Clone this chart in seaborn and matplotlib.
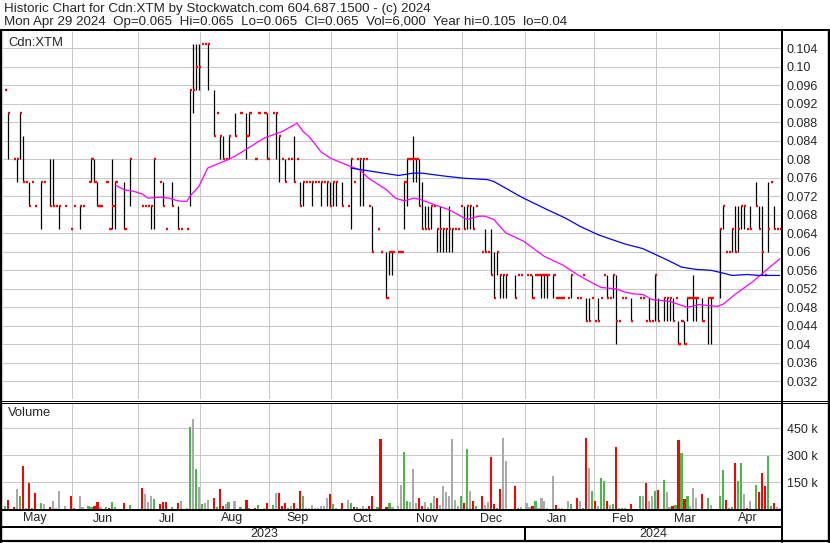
import numpy as np
import pandas as pd
import matplotlib
matplotlib.use('Agg')
import matplotlib.pyplot as plt
import seaborn as sns
from matplotlib.lines import Line2D

# daily bars, Cdn:XTM, 1 May 2023 .. 29 Apr 2024 (weekdays), None = no trade
high = [
    .095, .09, None, .08, .08, .09, .085, .075, .075, .075,
    .07, None, .075, .075, None, .08, .08, .07, .07, None,
    .07, None, .065, .07, None, .07, .07, None, .075, .08,
    .08, .075, .07, None, .075, .065, .08, .075, None, None,
    .075, None, .08, None, None, None, .07, .07, .07, .07,
    .08, None, .075, .075, .065, None, .075, None, .07, .065,
    None, .065, .095, .105, .105, .105, .105, .105, .105, None,
    .095, .09, .085, .085, .08, .085, None, .09, None, .09,
    None, .09, .09, None, .08, .09, None, .09, .09, None,
    .09, .09, .085, .08, .08, .08, .08, .085, .08, .075,
    .075, .075, .075, .075, .075, .075, .075, .075, .075, .075,
    .075, .075, None, .075, None, .07, .08, .075, .08, .08,
    .08, .08, .07, .07, None, .065, .06, None, .06, .06,
    .06, None, .06, .06, .075, .08, .08, .085, .08, .08,
    .075, .07, .07, .07, .07, .065, .07, .065, .065, .07,
    .065, .065, .065, .07, .07, .07, .07, .07, .07, None,
    .06, .065, .06, .065, .06, .06, .055, .055, .055, None,
    None, .055, .055, .055, None, .055, .055, .055, .055, .055,
    .055, .055, .055, None, .055, .05, .05, .05, None, .05,
    .055, None, .05, .05, .055, .05, .05, .05, .045, .05,
    .05, .055, .055, .05, .055, .055, .045, .05, .05, None,
    .05, None, None, .05, .05, .045, .05, .045, .055, .05,
    None, .05, .05, .05, .05, .05, .045, .045, .045, .05,
    .05, .055, .05, None, .05, None, .05, .05, None, None,
    .065, .07, .06, .06, .065, .07, .07, .07, .07, .065,
    .07, None, .075, .07, .07, .055, .075, .075, .07, .065,
    .065,
]
low = [
    .095, .08, None, .08, .075, .08, .075, .075, .07, .075,
    .07, None, .065, .075, None, .07, .07, .07, .065, None,
    .07, None, .065, .07, None, .065, .07, None, .075, .075,
    .075, .07, .07, None, .075, .065, .065, .065, None, None,
    .065, None, .07, None, None, None, .07, .07, .07, .065,
    .065, None, .075, .07, .065, None, .07, None, .065, .065,
    None, .065, .07, .09, .095, .095, .105, .105, .095, None,
    .085, .09, .08, .08, .08, .08, None, .085, None, .09,
    None, .08, .085, None, .08, .09, None, .09, .08, None,
    .09, .08, .075, .08, .075, .08, .08, .075, .08, .07,
    .07, .075, .075, .07, .075, .075, .07, .075, .07, .07,
    .07, .07, None, .07, None, .07, .065, .075, .08, .07,
    .07, .08, .07, .06, None, .065, .06, None, .05, .055,
    .055, None, .06, .06, .065, .07, .08, .075, .075, .07,
    .065, .065, .065, .065, .07, .06, .06, .06, .06, .06,
    .06, .065, .065, .07, .065, .065, .065, .065, .07, None,
    .06, .06, .06, .055, .05, .055, .05, .05, .05, None,
    None, .05, .055, .055, None, .055, .055, .05, .055, .055,
    .05, .05, .05, None, .05, .05, .05, .05, None, .05,
    .05, None, .05, .05, .055, .045, .045, .05, .045, .045,
    .05, .055, .05, .05, .05, .04, .045, .05, .05, None,
    .045, None, None, .05, .05, .045, .045, .045, .045, .045,
    None, .045, .045, .045, .045, .05, .04, .045, .04, .045,
    .05, .045, .045, None, .045, None, .04, .04, None, None,
    .05, .065, .06, .06, .06, .06, .06, .065, .065, .065,
    .065, None, .07, .065, .055, .055, .06, .075, .065, .065,
    .065,
]
close = [
    .095, .09, None, .08, .08, .09, .075, .075, .07, .075,
    .07, None, .075, .075, None, .07, .07, .07, .07, None,
    .07, None, .065, .07, None, .07, .07, None, .075, .08,
    .075, .07, .07, None, .075, .065, .07, .075, None, None,
    .065, None, .08, None, None, None, .07, .07, .07, .07,
    .08, None, .075, .07, .065, None, .07, None, .065, .065,
    None, .065, .095, .095, .10, .10, .105, .105, .105, None,
    .085, .09, .085, .08, .08, .085, None, .085, None, .09,
    None, .085, .09, None, .08, .09, None, .09, .08, None,
    .09, .09, .085, .08, .075, .08, .08, .075, .08, .07,
    .075, .075, .075, .075, .075, .075, .075, .075, .075, .07,
    .075, .075, None, .07, None, .07, .08, .075, .08, .08,
    .08, .08, .07, .06, None, .065, .06, None, .05, .06,
    .06, None, .06, .06, .075, .08, .08, .08, .08, .07,
    .065, .065, .065, .07, .07, .065, .065, .065, .065, .065,
    .065, .065, .065, .07, .065, .07, .07, .065, .07, None,
    .06, .06, .06, .055, .05, .06, .055, .055, .055, None,
    None, .05, .055, .055, None, .055, .055, .05, .055, .055,
    .055, .055, .055, None, .055, .05, .05, .05, None, .05,
    .055, None, .05, .05, .055, .045, .045, .05, .045, .045,
    .05, .055, .05, .05, .055, .045, .045, .05, .05, None,
    .045, None, None, .05, .05, .045, .045, .045, .055, .045,
    None, .05, .05, .05, .045, .05, .04, .045, .04, .05,
    .05, .05, .05, None, .045, None, .05, .05, None, None,
    .065, .07, .06, .06, .065, .06, .065, .07, .07, .065,
    .065, None, .07, .065, .06, .055, .065, .075, .065, .065,
    .065,
]
# volume in thousands of shares
volume = [
    17, 52, 0, 10, 110, 75, 238, 6, 145, 6,
    87, 0, 35, 29, 0, 12, 46, 6, 99, 0,
    17, 0, 75, 6, 0, 75, 12, 0, 17, 12,
    17, 41, 12, 0, 12, 6, 41, 12, 0, 0,
    35, 0, 23, 0, 0, 0, 116, 81, 41, 70,
    58, 0, 29, 41, 41, 0, 12, 0, 35, 46,
    0, 6, 459, 499, 221, 122, 29, 35, 52, 0,
    64, 12, 110, 17, 29, 41, 0, 46, 0, 12,
    0, 52, 6, 0, 6, 23, 0, 6, 35, 0,
    23, 87, 87, 17, 35, 6, 17, 35, 6, 99,
    70, 6, 6, 23, 6, 6, 17, 17, 64, 81,
    29, 6, 0, 35, 0, 52, 35, 12, 12, 6,
    17, 6, 17, 75, 0, 12, 389, 0, 12, 35,
    12, 0, 17, 133, 319, 46, 41, 221, 35, 64,
    17, 41, 12, 35, 70, 64, 23, 128, 93, 75,
    389, 52, 17, 70, 35, 337, 99, 46, 17, 0,
    75, 23, 41, 290, 29, 6, 110, 395, 267, 0,
    0, 128, 6, 12, 0, 35, 12, 17, 46, 6,
    64, 46, 6, 0, 186, 23, 6, 6, 0, 46,
    29, 0, 64, 46, 6, 395, 227, 99, 46, 17,
    174, 157, 46, 23, 29, 348, 6, 6, 6, 0,
    29, 0, 0, 75, 75, 145, 46, 70, 99, 104,
    0, 163, 93, 12, 17, 23, 383, 313, 58, 75,
    17, 116, 64, 0, 81, 0, 64, 23, 0, 0,
    75, 215, 52, 6, 12, 255, 157, 255, 81, 6,
    46, 0, 133, 93, 203, 128, 296, 17, 35, 12,
    6,
]

# moving averages (day index, price)
ma_short_day = [37, 40, 43, 46, 48, 52, 55, 58, 61, 62, 65, 68, 74, 77, 82, 87,
                93, 98, 100, 102, 104, 106, 109, 113, 119, 122, 128, 131, 134,
                137, 139, 144, 149, 155, 159, 161, 164, 168, 174, 181, 187, 192,
                197, 200, 205, 208, 211, 214, 217, 223, 229, 233, 239, 241, 245,
                251, 255, 260]
ma_short = [.0744, .0734, .0731, .0725, .0716, .0718, .0716, .0710, .0709, .0720,
            .0741, .0781, .0797, .0806, .0826, .0846, .0860, .0878, .0860, .0849,
            .0833, .0816, .0803, .0792, .0777, .0759, .0734, .0716, .0710, .0716,
            .0714, .0702, .0691, .0670, .0677, .0677, .0670, .0641, .0623, .0590,
            .0572, .0551, .0533, .0523, .0520, .0513, .0509, .0508, .0497, .0493,
            .0480, .0486, .0482, .0487, .0508, .0536, .0558, .0585]
ma_long_day = [116, 122, 129, 132, 137, 140, 147, 154, 162, 164, 169, 172, 174,
               182, 188, 193, 199, 203, 208, 211, 214, 217, 223, 227, 232, 237,
               241, 244, 249, 253, 260]
ma_long = [.0781, .0775, .0768, .0765, .0770, .0770, .0764, .0759, .0756, .0752,
           .0734, .0723, .0716, .0691, .0673, .0655, .0637, .0628, .0617, .0612,
           .0607, .0598, .0580, .0567, .0562, .0560, .0554, .0549, .0551, .0549,
           .0549]

price_ticks = [.104, .100, .096, .092, .088, .084, .080, .076, .072, .068, .064,
               .060, .056, .052, .048, .044, .040, .036, .032]
price_labels = ['0.104', '0.10', '0.096', '0.092', '0.088', '0.084', '0.08',
                '0.076', '0.072', '0.068', '0.064', '0.06', '0.056', '0.052',
                '0.048', '0.044', '0.04', '0.036', '0.032']
vol_ticks = [150, 300, 450]
vol_labels = ['150 k', '300 k', '450 k']
month_labels = ['May', 'Jun', 'Jul', 'Aug', 'Sep', 'Oct', 'Nov', 'Dec',
                'Jan', 'Feb', 'Mar', 'Apr']
year_labels = ['2023', '2024']

title1 = 'Historic Chart for Cdn:XTM by Stockwatch.com 604.687.1500 - (c) 2024'
title2 = ('Mon Apr 29 2024  Op=0.065  Hi=0.065  Lo=0.065  Cl=0.065  '
          'Vol=6,000  Year hi=0.105  lo=0.04')

sns.set_style('white')
plt.rcParams['font.family'] = ['Liberation Sans', 'DejaVu Sans']

dates = pd.bdate_range('2023-05-01', '2024-04-29')
x = np.arange(len(dates))
hi = np.array(high, dtype=float)
lo = np.array(low, dtype=float)
cl = np.array(close, dtype=float)
traded = ~np.isnan(cl)

prev = pd.Series(cl).ffill().shift(1).to_numpy()
move = np.where(cl < prev, 'down', np.where(cl > prev, 'up', 'flat'))
move[np.isnan(prev)] = 'up'
vol_df = pd.DataFrame({'day': x, 'vol': volume, 'move': move})
vol_df = vol_df[vol_df.vol > 0]

new_month = np.r_[0, np.flatnonzero(np.diff(dates.month) != 0) + 1]
grid_x = new_month[1:] - 0.5
x0, x1 = -0.7, len(x) - 0.6
bounds = np.r_[x0, grid_x, x1]
year_split = grid_x[7]

W, H = 830, 543
fig = plt.figure(figsize=(W / 100, H / 100), dpi=100)


def box(l, t, r, b):
    return [l / W, 1 - b / H, (r - l) / W, (b - t) / H]


ax_p = fig.add_axes(box(3, 32, 781, 399))
ax_v = fig.add_axes(box(3, 404, 781, 509))
ax_m = fig.add_axes(box(3, 511, 781, 526))
ax_y = fig.add_axes(box(3, 528, 781, 540))

gridc = '#c8c8c8'
fs = 9

# price panel
ax_p.vlines(x[traded], lo[traded], hi[traded], color='black', lw=0.9)
ax_p.hlines(cl[traded], x[traded], x[traded] + 0.75, color='#ff0000', lw=1.7)
sns.lineplot(x=ma_short_day, y=ma_short, ax=ax_p, color='#ff00ff', lw=0.9,
             estimator=None)
sns.lineplot(x=ma_long_day, y=ma_long, ax=ax_p, color='#0000ff', lw=0.9,
             estimator=None)
ax_p.set_xlim(x0, x1)
ax_p.set_ylim(0.0282, 0.1075)
ax_p.set_yticks(price_ticks)
ax_p.set_yticklabels(price_labels)
ax_p.set_xticks(grid_x)
ax_p.set_xticklabels([])
ax_p.text(8 / W, 1 - 43 / H, 'Cdn:XTM', transform=fig.transFigure,
          fontsize=9.4, va='center', ha='left')

# volume panel
sns.barplot(data=vol_df, x='day', y='vol', hue='move', ax=ax_v,
            palette={'up': '#4cb84c', 'down': '#ff0000', 'flat': '#aaaaaa'},
            native_scale=True, dodge=False, width=0.72, errorbar=None,
            legend=False, saturation=1, linewidth=0, antialiased=False)
ax_v.set_xlim(x0, x1)
ax_v.set_ylim(0, 585)
ax_v.set_yticks(vol_ticks)
ax_v.set_yticklabels(vol_labels)
ax_v.set_xticks(grid_x)
ax_v.set_xticklabels([])
ax_v.text(8 / W, 1 - 413 / H, 'Volume', transform=fig.transFigure,
          fontsize=9.4, va='center', ha='left')

for ax in (ax_p, ax_v):
    ax.set_xlabel('')
    ax.set_ylabel('')
    ax.grid(True, color=gridc, lw=0.75)
    ax.set_axisbelow(True)
    ax.yaxis.tick_right()
    ax.tick_params(axis='both', length=0, labelsize=fs, pad=4.3)
    for s in ax.spines.values():
        s.set_visible(False)

# month and year rows
for ax in (ax_m, ax_y):
    ax.set_xlim(x0, x1)
    ax.set_ylim(0, 1)
    ax.set_xticks([])
    ax.set_yticks([])
    for s in ax.spines.values():
        s.set_visible(False)
for i, lab in enumerate(month_labels):
    ax_m.text((bounds[i] + bounds[i + 1]) / 2 - 0.8, 0.5, lab, ha='center',
              va='center', fontsize=fs)
ax_y.text((x0 + year_split) / 2, 0.5, year_labels[0], ha='center',
          va='center', fontsize=fs)
ax_y.text((year_split + x1) / 2, 0.5, year_labels[1], ha='center',
          va='center', fontsize=fs)

fig.text(4 / W, 1 - 9 / H, title1, fontsize=9.6, va='center', ha='left')
fig.text(4 / W, 1 - 22.5 / H, title2, fontsize=9.6, va='center', ha='left')


def hline(y, xa, xb, px):
    fig.add_artist(Line2D([xa / W, xb / W], [1 - y / H, 1 - y / H],
                          color='black', lw=px * 0.72))


def vline(xp, ya, yb, px):
    fig.add_artist(Line2D([xp / W, xp / W], [1 - ya / H, 1 - yb / H],
                          color='black', lw=px * 0.72))


hline(30.3, 0, W, 2)
hline(400.5, 0, W, 1)
hline(403.2, 0, W, 1)
hline(510, 0, 782, 2)
hline(526.7, 0, 782, 2)
hline(541.3, 0, W, 2.2)
vline(1.2, 29.5, 542, 2.4)
vline(781.7, 29.5, 542, 2)
vline(828.7, 29.5, 542, 2.4)
vline(xp=3 + (year_split - x0) * 778 / (x1 - x0), ya=526.7, yb=541.3, px=2)

fig.savefig('out.png', dpi=100)
